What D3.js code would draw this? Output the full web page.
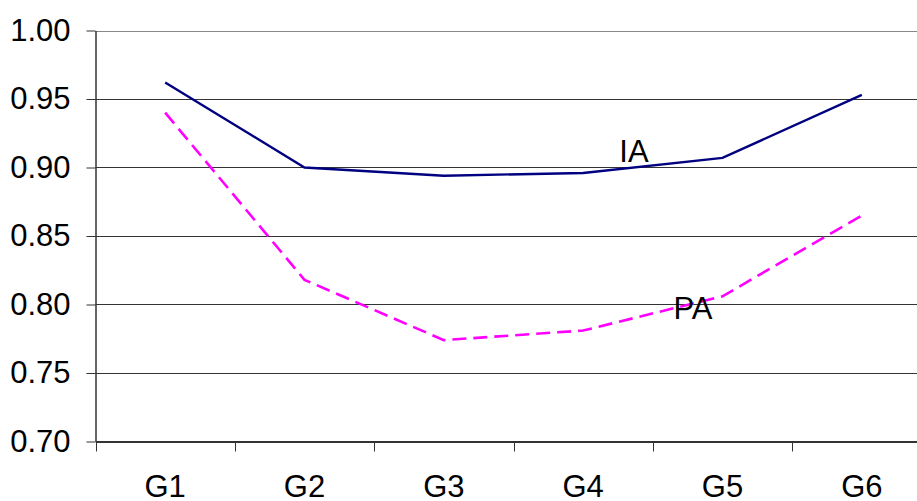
<!DOCTYPE html>
<html><head><meta charset="utf-8">
<script src="https://cdn.jsdelivr.net/npm/d3@7"></script>
<style>body{margin:0;background:#fff;overflow:hidden}</style>
</head><body>
<svg id="c" width="917" height="501"></svg>
<script>
const categories = ["G1","G2","G3","G4","G5","G6"];
const iaValues = [0.962, 0.900, 0.894, 0.896, 0.907, 0.953];
const paValues = [0.940, 0.818, 0.774, 0.781, 0.806, 0.865];
const yTicks = [0.70, 0.75, 0.80, 0.85, 0.90, 0.95, 1.00];

(function () {
const svg = d3.select("#c");
const mLeft = 95.5, mRight = 931.5, mTop = 30.5, mBottom = 441.5;
const x = d3.scaleBand().domain(categories).range([mLeft, mRight]);
const y = d3.scaleLinear().domain([0.70, 1.00]).range([mBottom, mTop]);
const font = "'Liberation Sans', Arial, sans-serif";
const fs = 31;

// gridlines
svg.append("g").selectAll("line").data(yTicks.slice(1)).join("line")
  .attr("x1", mLeft).attr("x2", mRight)
  .attr("y1", d => Math.round(y(d)) + 0.5).attr("y2", d => Math.round(y(d)) + 0.5)
  .attr("stroke", d => d === 1.00 ? "#888" : "#333").attr("stroke-width", 1);

// y axis
const yAxis = svg.append("g").attr("transform", `translate(${mLeft},0)`)
  .call(d3.axisLeft(y).tickValues(yTicks).tickFormat(d3.format(".2f")).tickSizeInner(9).tickSizeOuter(0).tickPadding(16));
yAxis.select(".domain").attr("stroke", "#333").attr("stroke-width", 1.5);
yAxis.selectAll(".tick line").attr("stroke", "#333");
yAxis.selectAll("text").attr("font-family", font).attr("font-size", fs).attr("fill", "#000");

// x axis
const xAxis = svg.append("g").attr("transform", `translate(0,${mBottom})`)
  .call(d3.axisBottom(x).tickSize(0).tickPadding(32));
xAxis.select(".domain").attr("stroke", "#333").attr("stroke-width", 2);
xAxis.selectAll("text").attr("font-family", font).attr("font-size", fs).attr("fill", "#000")
  .attr("dy", null).attr("y", 55.5);
svg.append("g").selectAll("line").data(categories).join("line")
  .attr("x1", d => Math.round(x(d)) + 0.5).attr("x2", d => Math.round(x(d)) + 0.5)
  .attr("y1", mBottom).attr("y2", mBottom + 10).attr("stroke", "#333").attr("stroke-width", 1);

const line = d3.line().x((d, i) => x(categories[i]) + x.bandwidth() / 2).y(d => y(d));

svg.append("path").datum(paValues).attr("d", line)
  .attr("fill", "none").attr("stroke", "#ff00ff").attr("stroke-width", 2.6)
  .attr("stroke-dasharray", "14,7");
svg.append("path").datum(iaValues).attr("d", line)
  .attr("fill", "none").attr("stroke", "#000080").attr("stroke-width", 2.4);

svg.append("text").attr("x", 634).attr("y", 162).attr("text-anchor", "middle")
  .attr("font-family", font).attr("font-size", fs).text("IA");
svg.append("text").attr("x", 693).attr("y", 319).attr("text-anchor", "middle")
  .attr("font-family", font).attr("font-size", fs).text("PA");
})();
</script>
</body></html>
